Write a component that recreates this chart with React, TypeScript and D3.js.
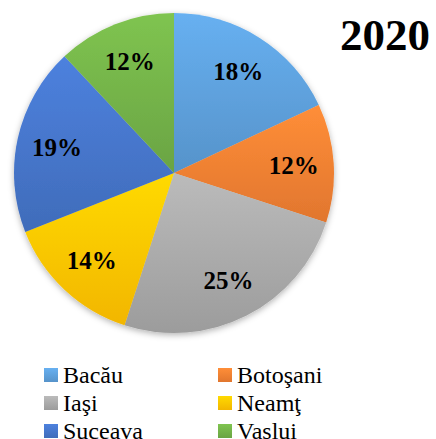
import {useEffect, useRef} from 'react';
import * as d3 from 'd3';

// data
const categories = ['Bacău', 'Botoşani', 'Iaşi', 'Neamţ', 'Suceava', 'Vaslui'];
const values = [18, 12, 25, 14, 19, 12];
const colors = ['#5B9BD5', '#ED7D31', '#A5A5A5', '#FFC000', '#4472C4', '#70AD47'];
const title = '2020';

// parameters
const width = 436;
const height = 439;
const cx = 174;
const cy = 173;
const radius = 160;
const labelRadius = 120;
const font = '"Liberation Serif", "DejaVu Serif", serif';

export default function App() {
  const ref = useRef(null);
  useEffect(() => {
    if (!ref.current) return;
    const svg = d3.select(ref.current);
    svg.selectAll('*').remove();

    const defs = svg.append('defs');
    // gradient per slice, lighter on top
    colors.forEach((c, i) => {
      const g = defs.append('linearGradient')
        .attr('id', `grad-${i}`)
        .attr('x1', 0).attr('y1', 0).attr('x2', 0).attr('y2', 1);
      g.append('stop').attr('offset', '0%').attr('stop-color', d3.color(c)!.brighter(0.35).formatHex());
      g.append('stop').attr('offset', '100%').attr('stop-color', d3.color(c)!.darker(0.15).formatHex());
    });
    const filter = defs.append('filter').attr('id', 'shadow')
      .attr('x', '-10%').attr('y', '-10%').attr('width', '120%').attr('height', '120%');
    filter.append('feDropShadow')
      .attr('dx', 0).attr('dy', 2).attr('stdDeviation', 3)
      .attr('flood-color', '#000').attr('flood-opacity', 0.3);

    const pie = d3.pie<number>().sort(null).value(d => d);
    const arc = d3.arc<d3.PieArcDatum<number>>().innerRadius(0).outerRadius(radius);
    const labelArc = d3.arc<d3.PieArcDatum<number>>().innerRadius(labelRadius).outerRadius(labelRadius);
    const total = d3.sum(values);

    const g = svg.append('g').attr('transform', `translate(${cx},${cy})`);
    const pg = g.append('g').attr('filter', 'url(#shadow)');
    pg.selectAll('path')
      .data(pie(values))
      .enter()
      .append('path')
      .attr('d', arc)
      .attr('fill', (d, i) => `url(#grad-${i})`);

    g.selectAll('text.lbl')
      .data(pie(values))
      .enter()
      .append('text')
      .classed('lbl', true)
      .attr('transform', d => `translate(${labelArc.centroid(d)})`)
      .attr('text-anchor', 'middle')
      .attr('dy', '0.35em')
      .style('font-family', font)
      .style('font-weight', 'bold')
      .style('font-size', '25px')
      .style('fill', '#000')
      .text(d => `${Math.round(d.value / total * 100)}%`);

    // title
    svg.append('text')
      .attr('x', 430)
      .attr('y', 50)
      .attr('text-anchor', 'end')
      .style('font-family', font)
      .style('font-weight', 'bold')
      .style('font-size', '45px')
      .text(title);

    // legend
    const legend = svg.append('g');
    const items = legend.selectAll('g.item')
      .data(categories)
      .enter()
      .append('g')
      .classed('item', true)
      .attr('transform', (d, i) => `translate(${44 + (i % 2) * 174},${375 + Math.floor(i / 2) * 28})`);
    items.append('rect')
      .attr('x', 0).attr('y', -7)
      .attr('width', 14).attr('height', 14)
      .attr('fill', (d, i) => `url(#grad-${i})`);
    items.append('text')
      .attr('x', 19)
      .attr('dy', '0.35em')
      .style('font-family', font)
      .style('font-size', '24px')
      .style('fill', '#000')
      .text(d => d);
  }, [ref]);
  return <svg
    ref={ref}
    width={width}
    height={height}
    style={{position: 'absolute', left: 0, top: 0, background: '#fff'}}
  />;
}
